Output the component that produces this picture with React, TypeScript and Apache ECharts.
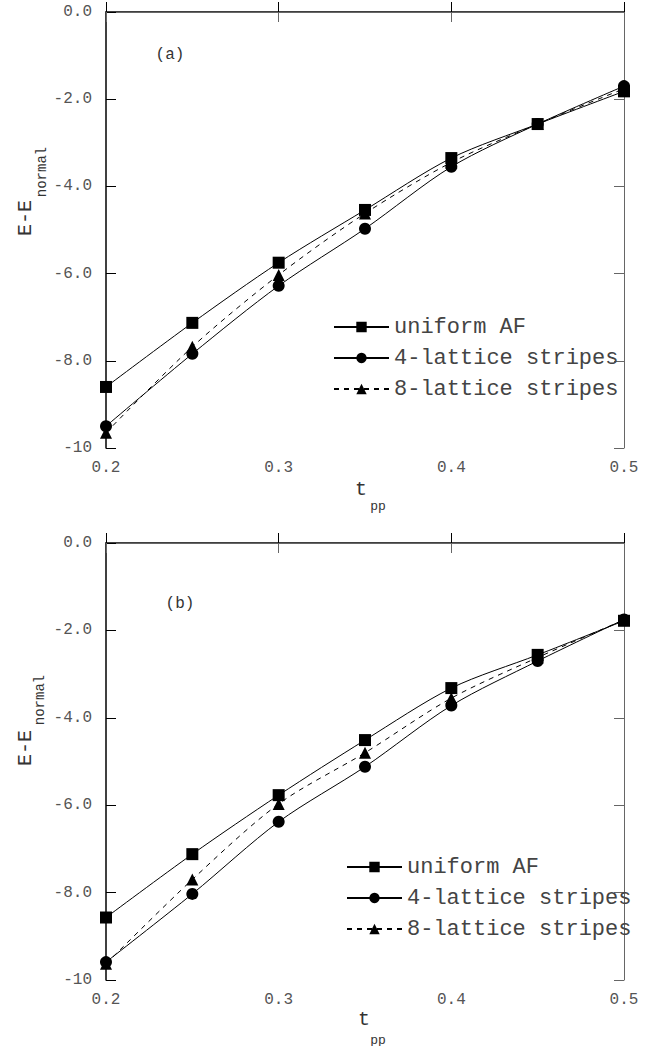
import React, { useEffect, useRef } from 'react';
import * as echarts from 'echarts';

const tpp = [0.2, 0.25, 0.3, 0.35, 0.4, 0.45, 0.5];
const aUniform = [-8.6, -7.13, -5.75, -4.54, -3.35, -2.57, -1.82];
const aStripes4 = [-9.5, -7.84, -6.28, -4.97, -3.55, -2.57, -1.7];
const aStripes8 = [-9.65, -7.68, -6.03, -4.62, -3.45, -2.57, -1.76];
const bUniform = [-8.57, -7.12, -5.77, -4.51, -3.32, -2.56, -1.78];
const bStripes4 = [-9.59, -8.03, -6.38, -5.12, -3.72, -2.7, -1.75];
const bStripes8 = [-9.63, -7.7, -5.97, -4.8, -3.55, -2.62, -1.76];
const seriesNames = ['uniform AF', '4-lattice stripes', '8-lattice stripes'];
const panelLabels = ['(a)', '(b)'];
const yAxisTitle = 'E-E';
const yAxisSub = 'normal';
const xAxisTitle = 't';
const xAxisSub = 'pp';

const MONO = '"Liberation Mono", "DejaVu Sans Mono", monospace';

const grids = [
  { left: 106, top: 12, width: 518, height: 436 },
  { left: 106, top: 543, width: 518, height: 437 },
];

export default function App() {
  const ref = useRef<HTMLDivElement>(null);
  useEffect(() => {
    if (!ref.current) return;
    const chart = echarts.init(ref.current, null, { renderer: 'svg' });
    const panels = [
      [aUniform, aStripes4, aStripes8],
      [bUniform, bStripes4, bStripes8],
    ];
    const symbols = ['rect', 'circle', 'triangle'];
    const lineTypes: any[] = ['solid', 'solid', [5, 5]];
    const xAxes: any[] = [];
    const yAxes: any[] = [];
    const series: any[] = [];
    grids.forEach((g, gi) => {
      const baseX = {
        type: 'value', gridIndex: gi, min: 0.2, max: 0.5, interval: 0.1,
        splitLine: { show: false },
      };
      xAxes.push({
        ...baseX, position: 'bottom',
        axisLine: { show: true, lineStyle: { color: '#000', width: 1.5 } },
        axisTick: { show: true, inside: true, length: 10, lineStyle: { color: '#000', width: 1 } },
        axisLabel: { formatter: (v: number) => v.toFixed(1), fontFamily: MONO, fontSize: 16, color: '#555', margin: 12 },
      });
      xAxes.push({
        ...baseX, position: 'top',
        axisLine: { show: true, lineStyle: { color: '#666', width: 1 } },
        axisTick: { show: true, inside: true, length: 10, lineStyle: { color: '#666', width: 1 } },
        axisLabel: { show: false },
      });
      const baseY = {
        type: 'value', gridIndex: gi, min: -10, max: 0, interval: 2,
        splitLine: { show: false },
      };
      yAxes.push({
        ...baseY, position: 'left',
        axisLine: { show: true, lineStyle: { color: '#000', width: 1.5 } },
        axisTick: { show: true, inside: true, length: 10, lineStyle: { color: '#000', width: 1 } },
        axisLabel: {
          formatter: (v: number) => (v === -10 ? '-10' : v.toFixed(1)),
          fontFamily: MONO, fontSize: 16, color: '#555', margin: 14,
        },
      });
      yAxes.push({
        ...baseY, position: 'right',
        axisLine: { show: true, lineStyle: { color: '#666', width: 1 } },
        axisTick: { show: true, inside: true, length: 10, lineStyle: { color: '#666', width: 1 } },
        axisLabel: { show: false },
      });
      panels[gi].forEach((vals, si) => {
        series.push({
          type: 'line',
          name: seriesNames[si],
          xAxisIndex: gi * 2,
          yAxisIndex: gi * 2,
          data: tpp.map((x, i) => [x, vals[i]]),
          smooth: 0.3,
          symbol: symbols[si],
          symbolSize: 12,
          showAllSymbol: true,
          z: si === 2 ? 2 : 3,
          lineStyle: { color: '#000', width: 1, type: lineTypes[si] },
          itemStyle: { color: '#000' },
          emphasis: { disabled: true },
        });
      });
    });

    const legendBase = {
      orient: 'vertical',
      selectedMode: false,
      itemWidth: 55,
      itemHeight: 13,
      itemGap: 9,
      data: seriesNames,
      textStyle: { fontFamily: MONO, fontSize: 22, color: '#444', lineHeight: 22 },
    };

    const graphic: any[] = [];
    const labelPos = [
      { lx: 170, ly: 55, ex: 25, ey: 218, nx: 42, ny: 172, tx: 361, ty: 489, px: 378, py: 506 },
      { lx: 180, ly: 604, ex: 25, ey: 748, nx: 40, ny: 700, tx: 364, ty: 1019, px: 378, py: 1040 },
    ];
    labelPos.forEach((p, gi) => {
      graphic.push({
        type: 'text', x: p.lx, y: p.ly,
        style: { text: panelLabels[gi], font: `16px ${MONO}`, fill: '#333', textAlign: 'center', textVerticalAlign: 'middle' },
      });
      graphic.push({
        type: 'text', x: p.ex, y: p.ey, rotation: Math.PI / 2,
        style: { text: yAxisTitle, font: `20px ${MONO}`, fill: '#333', textAlign: 'center', textVerticalAlign: 'middle' },
      });
      graphic.push({
        type: 'text', x: p.nx, y: p.ny, rotation: Math.PI / 2,
        style: { text: yAxisSub, font: `14px ${MONO}`, fill: '#333', textAlign: 'center', textVerticalAlign: 'middle' },
      });
      graphic.push({
        type: 'text', x: p.tx, y: p.ty,
        style: { text: xAxisTitle, font: `20px ${MONO}`, fill: '#333', textAlign: 'center', textVerticalAlign: 'middle' },
      });
      graphic.push({
        type: 'text', x: p.px, y: p.py,
        style: { text: xAxisSub, font: `13px ${MONO}`, fill: '#333', textAlign: 'center', textVerticalAlign: 'middle' },
      });
    });

    chart.setOption({
      animation: false,
      backgroundColor: '#fff',
      grid: grids,
      xAxis: xAxes,
      yAxis: yAxes,
      legend: [
        { ...legendBase, left: 328, top: 311 },
        { ...legendBase, left: 341, top: 851 },
      ],
      series,
      graphic,
    });
    return () => chart.dispose();
  }, []);
  return (
    <div
      ref={ref}
      style={{ position: 'absolute', left: 0, top: 0, width: 662, height: 1046, background: '#fff' }}
    />
  );
}
